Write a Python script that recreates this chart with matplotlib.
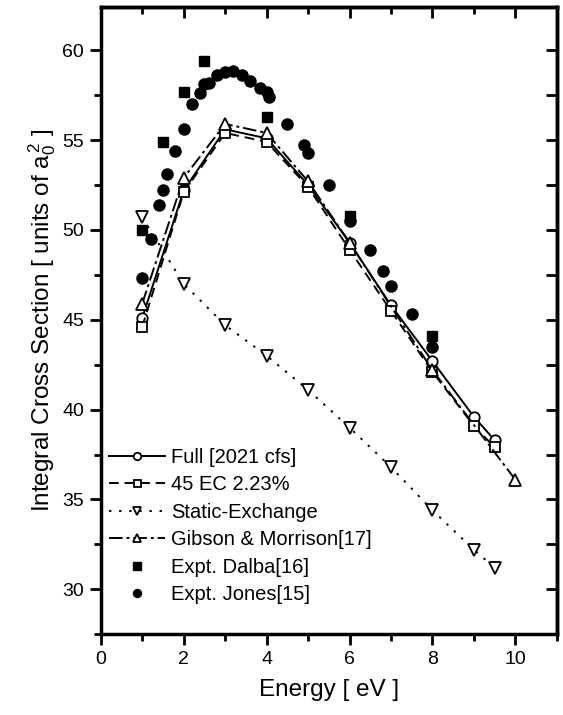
import matplotlib
matplotlib.use("Agg")
import matplotlib.pyplot as plt
from matplotlib.ticker import MultipleLocator

plt.rcParams['font.family'] = ['Liberation Sans', 'DejaVu Sans']
plt.rcParams['mathtext.fontset'] = 'custom'
plt.rcParams['mathtext.rm'] = 'Liberation Sans'
plt.rcParams['mathtext.it'] = 'Liberation Sans'

# Full close-coupling [2021 cfs]
full_x = [1, 2, 3, 4, 5, 6, 7, 8, 9, 9.5]
full_y = [45.1, 52.2, 55.6, 55.1, 52.5, 49.3, 45.8, 42.7, 39.6, 38.3]

# 45 EC 2.23%
ec_x = [1, 2, 3, 4, 5, 6, 7, 8, 9, 9.5]
ec_y = [44.6, 52.1, 55.4, 54.9, 52.4, 48.9, 45.5, 42.1, 39.1, 37.9]

# Static-Exchange
se_x = [1, 2, 3, 4, 5, 6, 7, 8, 9, 9.5]
se_y = [50.7, 47.0, 44.7, 43.0, 41.1, 39.0, 36.8, 34.4, 32.2, 31.2]

# Gibson & Morrison [17]
gm_x = [1, 2, 3, 4, 5, 6, 8, 10]
gm_y = [45.9, 52.9, 55.9, 55.4, 52.7, 49.3, 42.2, 36.1]

# Expt. Dalba [16]
dalba_x = [1.0, 1.5, 2.0, 2.5, 4.0, 6.0, 8.0]
dalba_y = [50.0, 54.9, 57.7, 59.4, 56.3, 50.8, 44.1]

# Expt. Jones [15]
jones_x = [1.0, 1.2, 1.4, 1.5, 1.6, 1.8, 2.0, 2.2, 2.4, 2.5, 2.6, 2.8, 3.0, 3.2,
           3.4, 3.6, 3.85, 4.0, 4.05, 4.5, 4.9, 5.0, 5.5, 6.0, 6.5, 6.8, 7.0, 7.5, 8.0]
jones_y = [47.3, 49.5, 51.4, 52.2, 53.1, 54.4, 55.6, 57.0, 57.6, 58.1, 58.2, 58.6, 58.8, 58.85,
           58.6, 58.3, 57.9, 57.7, 57.4, 55.9, 54.7, 54.3, 52.5, 50.5, 48.9, 47.7, 46.9, 45.3, 43.5]

fig = plt.figure(figsize=(5.63, 7.15), dpi=100)
ax = fig.add_axes([0.179, 0.113, 0.81, 0.877])

lw = 1.4
ms = 7.5
mew = 1.3
ax.plot(full_x, full_y, '-', color='k', lw=lw, marker='o', ms=ms, mfc='white', mec='k', mew=mew,
        label='Full [2021 cfs]')
ax.plot(ec_x, ec_y, color='k', lw=lw, ls=(0, (5, 3)), marker='s', ms=ms - 0.5, mfc='white', mec='k',
        mew=mew, label='45 EC 2.23%')
ax.plot(se_x, se_y, color='k', lw=lw, ls=(0, (1.2, 4)), marker='v', ms=ms + 0.5, mfc='white', mec='k',
        mew=mew, label='Static-Exchange')
ax.plot(gm_x, gm_y, color='k', lw=lw, ls=(0, (7, 2, 1.5, 2)), marker='^', ms=ms + 0.5, mfc='white',
        mec='k', mew=mew, label='Gibson & Morrison[17]')
ax.plot(dalba_x, dalba_y, ls='none', marker='s', ms=ms, color='k', label='Expt. Dalba[16]')
ax.plot(jones_x, jones_y, ls='none', marker='o', ms=ms + 0.5, color='k', label='Expt. Jones[15]')

ax.set_xlim(0, 11)
ax.set_ylim(27.5, 62.4)
ax.xaxis.set_major_locator(MultipleLocator(2))
ax.xaxis.set_minor_locator(MultipleLocator(1))
ax.yaxis.set_major_locator(MultipleLocator(5))
ax.yaxis.set_minor_locator(MultipleLocator(2.5))

for s in ax.spines.values():
    s.set_linewidth(2.5)
ax.tick_params(which='major', direction='out', length=8, width=2, labelsize=14, pad=4)
ax.tick_params(which='minor', direction='out', length=5, width=2)

# inward ticks on top and right
top = ax.secondary_xaxis('top')
top.xaxis.set_major_locator(MultipleLocator(2))
top.xaxis.set_minor_locator(MultipleLocator(1))
top.tick_params(which='major', direction='in', length=8, width=2, labeltop=False)
top.tick_params(which='minor', direction='in', length=5, width=2)
top.spines['top'].set_linewidth(2.5)
right = ax.secondary_yaxis('right')
right.yaxis.set_major_locator(MultipleLocator(2.5))
right.tick_params(which='major', direction='in', length=8, width=2, labelright=False)
right.tick_params(which='minor', length=0)
right.spines['right'].set_linewidth(2.5)

ax.set_xlabel('Energy [ eV ]', fontsize=17.5, labelpad=8)
ax.set_ylabel(r'Integral Cross Section [ units of a$_0^{\,2}$ ]', fontsize=17.5, labelpad=3)

ax.legend(loc='upper left', bbox_to_anchor=(0.0, 0.31), frameon=False, fontsize=14.5,
          handlelength=2.8, handletextpad=0.3, labelspacing=0.42, markerscale=0.72,
          borderpad=0.2, borderaxespad=0.2)

fig.savefig('out.png', dpi=100)
